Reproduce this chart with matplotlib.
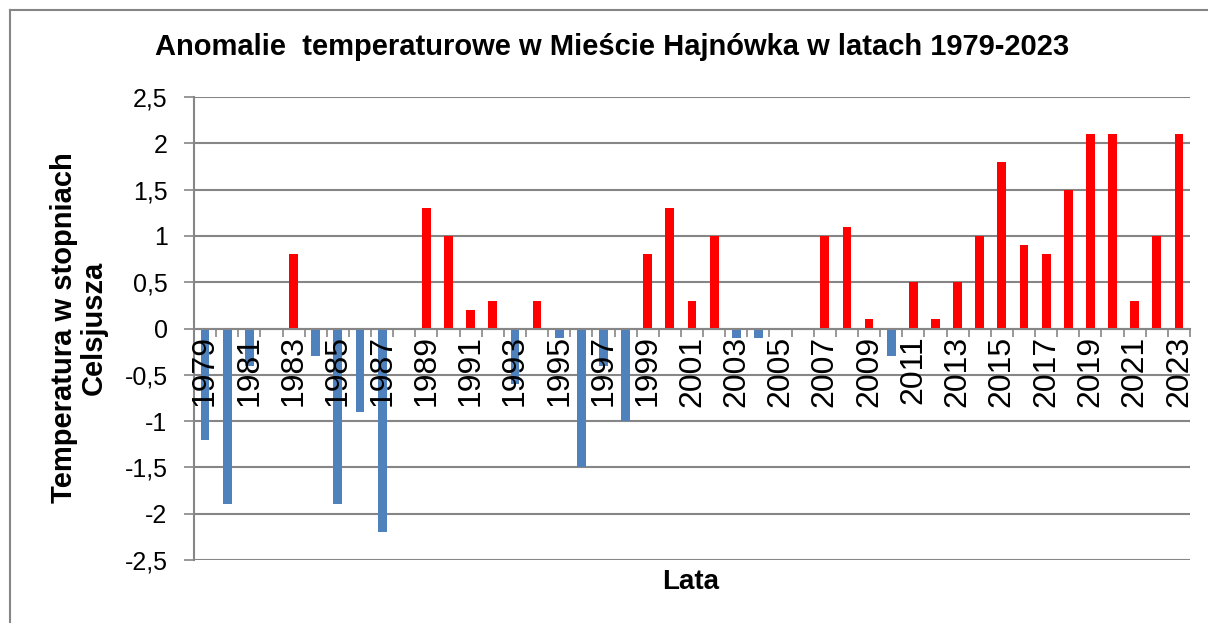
import numpy as np
import matplotlib.pyplot as plt
from matplotlib.lines import Line2D

plt.rcParams['font.family'] = ['Liberation Sans', 'DejaVu Sans']

years = list(range(1979, 2024))
anomalies = [-1.2, -1.9, -0.4, 0.0, 0.8, -0.3, -1.9, -0.9, -2.2, 0.0,
             1.3, 1.0, 0.2, 0.3, -0.6, 0.3, -0.1, -1.5, -0.4, -1.0,
             0.8, 1.3, 0.3, 1.0, -0.1, -0.1, 0.0, 0.0, 1.0, 1.1,
             0.1, -0.3, 0.5, 0.1, 0.5, 1.0, 1.8, 0.9, 0.8, 1.5,
             2.1, 2.1, 0.3, 1.0, 2.1]

vals = np.array(anomalies)
x = np.arange(len(years))
colors = ['#FF0000' if v > 0 else '#4F81BD' for v in vals]
grid_c = '#868686'

fig = plt.figure(figsize=(12.08, 6.23), dpi=100)
ax = fig.add_axes([194/1208, 63/623, 996/1208, 463/623])

ax.bar(x, vals, width=0.4, color=colors, zorder=3)

ax.set_xlim(-0.5, len(years) - 0.5)
ax.set_ylim(-2.5, 2.5)
yt = np.arange(-2.5, 2.51, 0.5)
ax.set_yticks(yt)
ax.set_yticklabels([('%g' % v).replace('.', ',') for v in yt])
ax.yaxis.grid(True, color=grid_c, linewidth=1.5, zorder=0)
ax.tick_params(axis='y', length=7, width=1.2, color=grid_c, pad=12, labelsize=18)

# category boundary ticks on the zero line, labels at centres
ax.set_xticks(np.arange(-0.5, len(years), 1.0))
ax.set_xticklabels([])
ax.tick_params(axis='x', which='major', length=6, width=1.2, color=grid_c, direction='out')
ax.set_xticks(x, minor=True)
ax.tick_params(axis='x', which='minor', length=0, pad=5, labelrotation=90, labelsize=23)
ax.set_xticklabels([str(y) if i % 2 == 0 else '' for i, y in enumerate(years)], minor=True)
for lab in ax.get_xticklabels(minor=True):
    lab.set_verticalalignment('top')
# year labels sit on top of the bars, as in the original
ax.xaxis.set_zorder(5)

for s in ['top', 'right']:
    ax.spines[s].set_visible(False)
ax.spines['bottom'].set_position(('data', 0))
ax.spines['bottom'].set_color(grid_c)
ax.spines['bottom'].set_linewidth(1.5)
ax.spines['bottom'].set_zorder(4)
ax.spines['left'].set_color(grid_c)
ax.spines['left'].set_linewidth(1.5)

fig.text(612/1208, 1 - 47/623, 'Anomalie  temperaturowe w Mieście Hajnówka w latach 1979-2023',
         ha='center', va='center', fontsize=21, fontweight='bold')
fig.text(79/1208, 1 - 328/623, 'Temperatura w stopniach\nCelsjusza', rotation=90,
         ha='center', va='center', fontsize=21, fontweight='bold', linespacing=1.05,
         multialignment='center')
fig.text(691/1208, 1 - 582/623, 'Lata', ha='center', va='center', fontsize=20, fontweight='bold')

# outer chart frame
fig.add_artist(Line2D([9.5/1208, 9.5/1208], [0, 1 - 10/623], transform=fig.transFigure,
                      color=grid_c, linewidth=1.5))
fig.add_artist(Line2D([9.5/1208, 1], [1 - 10/623, 1 - 10/623], transform=fig.transFigure,
                      color=grid_c, linewidth=1.5))

fig.savefig('out.png', dpi=100)
